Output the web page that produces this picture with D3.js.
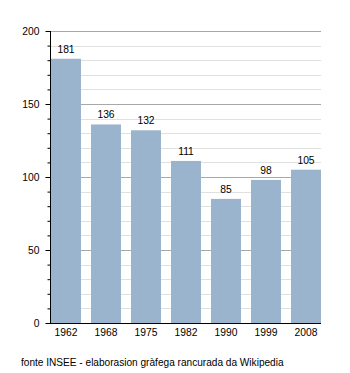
<!DOCTYPE html>
<html>
<head>
<meta charset="utf-8">
<script src="https://cdn.jsdelivr.net/npm/d3@7"></script>
<style>
  html, body { margin: 0; padding: 0; background: #fff; }
  svg { display: block; font-family: "Liberation Sans", Arial, sans-serif; }
</style>
</head>
<body>
<svg id="chart" width="350" height="373"></svg>
<script>
// Population by census year
const years = ["1962", "1968", "1975", "1982", "1990", "1999", "2008"];
const population = [181, 136, 132, 111, 85, 98, 105];
const majorTicks = [0, 50, 100, 150, 200];
const minorTicks = d3.range(0, 201, 10);
const sourceNote = "fonte INSEE - elaborasion gràfega rancurada da Wikipedia";

const fontSize = 10.3;
const svg = d3.select("#chart");
const plotLeft = 50, plotRight = 321, plotTop = 31, plotBottom = 323;

const x = d3.scaleBand().domain(years).range([plotLeft + 1, plotRight]).paddingInner(0.25).paddingOuter(0);
const y = d3.scaleLinear().domain([0, 200]).range([plotBottom, plotTop]);

// minor gridlines
svg.append("g").selectAll("line").data(minorTicks.filter(v => v % 50 !== 0)).join("line")
  .attr("x1", plotLeft).attr("x2", plotRight)
  .attr("y1", d => Math.round(y(d)) + 0.5).attr("y2", d => Math.round(y(d)) + 0.5)
  .attr("stroke", "#e0e0e0").attr("stroke-width", 1);

// major gridlines
svg.append("g").selectAll("line").data(majorTicks.filter(v => v > 0)).join("line")
  .attr("x1", plotLeft).attr("x2", plotRight)
  .attr("y1", d => Math.round(y(d)) + 0.5).attr("y2", d => Math.round(y(d)) + 0.5)
  .attr("stroke", "#a8a8a8").attr("stroke-width", 1);

// bars
svg.append("g").selectAll("rect").data(years).join("rect")
  .attr("x", d => x(d))
  .attr("width", x.bandwidth())
  .attr("y", (d, i) => y(population[i]))
  .attr("height", (d, i) => plotBottom - y(population[i]))
  .attr("fill", "#9bb4cd");

// value labels
svg.append("g").selectAll("text").data(years).join("text")
  .attr("x", d => x(d) + x.bandwidth() / 2)
  .attr("y", (d, i) => y(population[i]) - 6)
  .attr("text-anchor", "middle")
  .attr("font-size", fontSize)
  .attr("fill", "#000")
  .text((d, i) => population[i]);

// y axis with minor ticks
const yAxis = svg.append("g").attr("transform", `translate(${plotLeft + 0.5},0)`);
yAxis.call(d3.axisLeft(y).tickValues(minorTicks).tickSize(3).tickFormat(""))
  .call(g => g.select(".domain").remove());
yAxis.append("g").call(d3.axisLeft(y).tickValues(majorTicks).tickSize(5).tickPadding(6))
  .call(g => g.select(".domain").remove())
  .call(g => g.selectAll("text").attr("font-size", fontSize).attr("fill", "#000").attr("font-family", "Liberation Sans, Arial, sans-serif"));
yAxis.selectAll("line").attr("stroke", "#000");
yAxis.append("line").attr("x1", 0).attr("x2", 0).attr("y1", plotTop).attr("y2", plotBottom + 0.5).attr("stroke", "#000");

// x axis
const xAxis = svg.append("g").attr("transform", `translate(0,${plotBottom + 0.5})`);
xAxis.call(d3.axisBottom(x).tickSize(0).tickPadding(5))
  .call(g => g.select(".domain").remove())
  .call(g => g.selectAll("text").attr("font-size", fontSize).attr("fill", "#000").attr("font-family", "Liberation Sans, Arial, sans-serif"));
xAxis.append("line").attr("x1", plotLeft).attr("x2", plotRight).attr("stroke", "#000");

// source note
svg.append("text")
  .attr("x", 21).attr("y", 366)
  .attr("font-size", 10.1)
  .attr("fill", "#000")
  .text(sourceNote);
</script>
</body>
</html>
